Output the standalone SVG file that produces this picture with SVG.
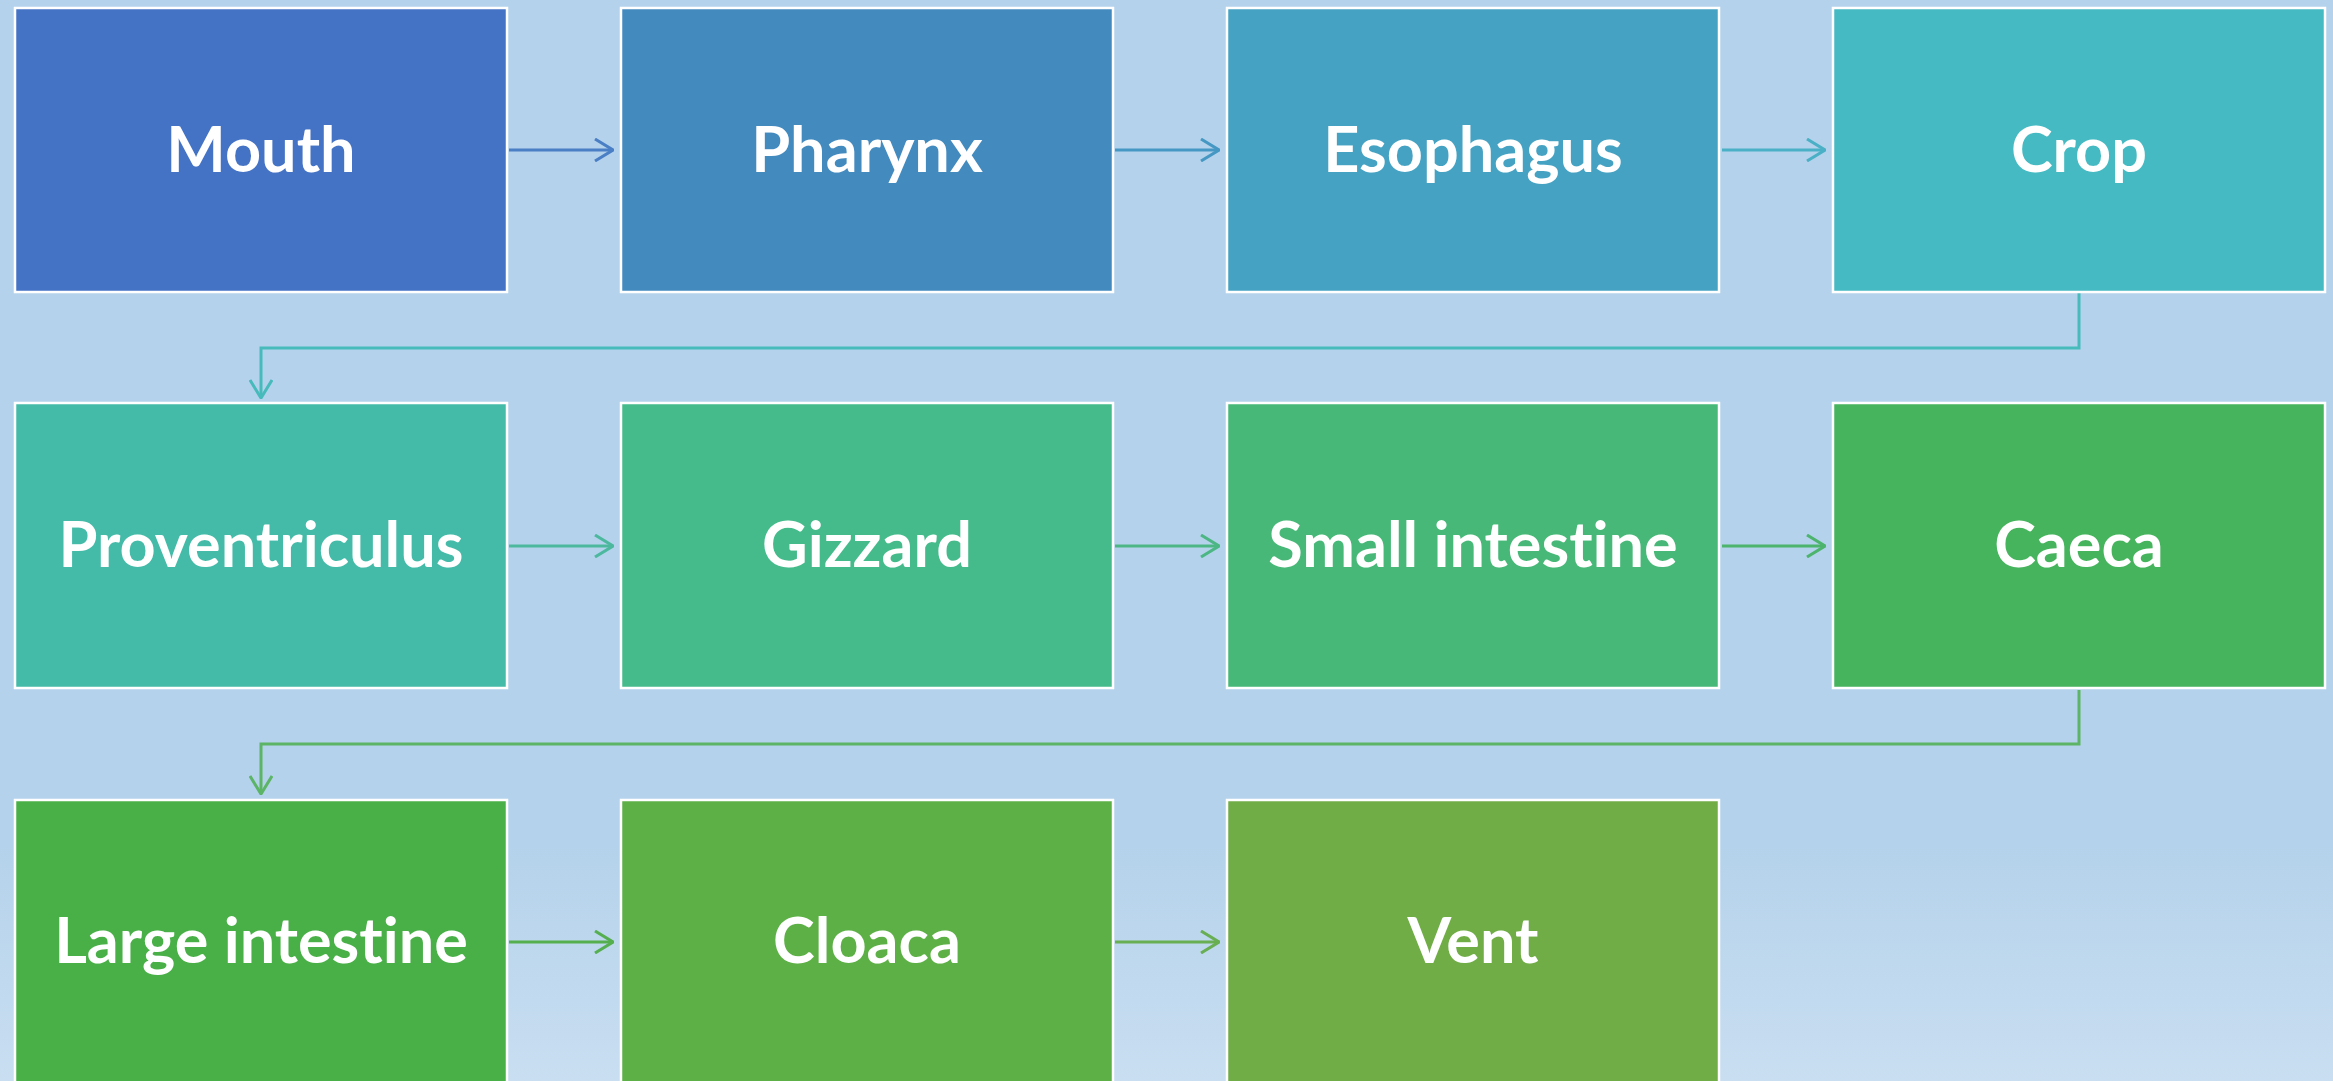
<svg xmlns="http://www.w3.org/2000/svg" width="2333" height="1081" viewBox="0 0 2333 1081">
<defs>
<linearGradient id="bg" x1="0" y1="0" x2="0" y2="1">
<stop offset="0" stop-color="#B4D2EB"/>
<stop offset="0.78" stop-color="#B4D2EB"/>
<stop offset="1" stop-color="#C9DEF1"/>
</linearGradient>
<marker id="ah" viewBox="0 0 20 24" refX="19" refY="12" markerWidth="20" markerHeight="24" markerUnits="userSpaceOnUse" orient="auto">
<path d="M1,1 L19,12 L1,23" fill="none" stroke="context-stroke" stroke-width="3"/>
</marker>
</defs>
<style>
.box{stroke:#FFFFFF;stroke-width:2.5}
.lbl{font-family:Lato,"Open Sans","Liberation Sans",sans-serif;font-weight:bold;font-size:63px;fill:#FFFFFF;text-anchor:middle;font-variant-ligatures:none;font-feature-settings:"liga" 0,"dlig" 0}
.c{fill:none;stroke-width:3}
</style>
<rect x="0" y="0" width="2333" height="1081" fill="url(#bg)"/>
<g id="connectors">
<path class="c" d="M509,150 H613" stroke="#4A7FC6" marker-end="url(#ah)"/>
<path class="c" d="M1115,150 H1219" stroke="#4598C3" marker-end="url(#ah)"/>
<path class="c" d="M1722,150 H1825" stroke="#4AB0C6" marker-end="url(#ah)"/>
<path class="c" d="M2079,293 V348 H261 V398" stroke="#47BABC" marker-end="url(#ah)"/>
<path class="c" d="M509,546 H613" stroke="#4CB99F" marker-end="url(#ah)"/>
<path class="c" d="M1115,546 H1219" stroke="#4CB784" marker-end="url(#ah)"/>
<path class="c" d="M1722,546 H1825" stroke="#4CB46C" marker-end="url(#ah)"/>
<path class="c" d="M2079,690 V744 H261 V794" stroke="#5CB466" marker-end="url(#ah)"/>
<path class="c" d="M509,942 H613" stroke="#55AF4E" marker-end="url(#ah)"/>
<path class="c" d="M1115,942 H1219" stroke="#68AE52" marker-end="url(#ah)"/>
</g>
<g id="mouth"><rect class="box" x="15" y="8" width="492" height="284" fill="#4472C4"/><text class="lbl" x="261" y="172">Mouth</text></g>
<g id="pharynx"><rect class="box" x="621" y="8" width="492" height="284" fill="#438ABF"/><text class="lbl" x="867" y="172">Pharynx</text></g>
<g id="esophagus"><rect class="box" x="1227" y="8" width="492" height="284" fill="#45A2C2"/><text class="lbl" x="1473" y="172">Esophagus</text></g>
<g id="crop"><rect class="box" x="1833" y="8" width="492" height="284" fill="#45BAC2"/><text class="lbl" x="2079" y="172">Crop</text></g>
<g id="proventriculus"><rect class="box" x="15" y="403" width="492" height="285" fill="#44BBA8"/><text class="lbl" x="261" y="567">Proventriculus</text></g>
<g id="gizzard"><rect class="box" x="621" y="403" width="492" height="285" fill="#45BB8B"/><text class="lbl" x="867" y="567">Gizzard</text></g>
<g id="small-intestine"><rect class="box" x="1227" y="403" width="492" height="285" fill="#47B877"/><text class="lbl" x="1473" y="567">Small intestine</text></g>
<g id="caeca"><rect class="box" x="1833" y="403" width="492" height="285" fill="#46B35D"/><text class="lbl" x="2079" y="567">Caeca</text></g>
<g id="large-intestine"><rect class="box" x="15" y="800" width="492" height="290" fill="#48B046"/><text class="lbl" x="261" y="963">Large intestine</text></g>
<g id="cloaca"><rect class="box" x="621" y="800" width="492" height="290" fill="#5DB046"/><text class="lbl" x="867" y="963">Cloaca</text></g>
<g id="vent"><rect class="box" x="1227" y="800" width="492" height="290" fill="#70AD47"/><text class="lbl" x="1473" y="963">Vent</text></g>
</svg>
